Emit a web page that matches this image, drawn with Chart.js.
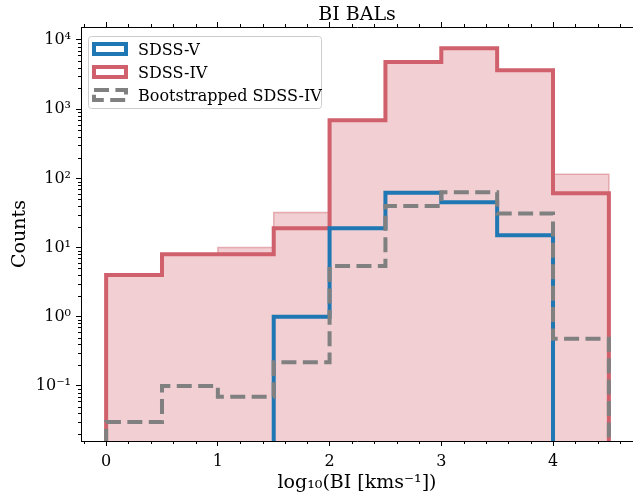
<!DOCTYPE html>
<html>
<head>
<meta charset="utf-8">
<script src="https://cdn.jsdelivr.net/npm/chart.js@4"></script>
<style>
  html, body { margin: 0; padding: 0; background: #fff; }
</style>
</head>
<body>
<canvas id="myChart" width="633" height="496"></canvas>
<script>
// histogram bins, log10(BI) edges
const binEdges = [0, 0.5, 1, 1.5, 2, 2.5, 3, 3.5, 4, 4.5]
const sdss5 = [0, 0, 0, 1, 19, 62, 45, 15, 0]
const sdss4 = [4, 8, 8, 19, 690, 4800, 7600, 3650, 61]
const sdss4Filled = [4, 8, 10, 32, 690, 4800, 7600, 3650, 115]
const bootSdss4 = [0.03, 0.1, 0.07, 0.22, 5.4, 40, 63, 31, 0.48]

const xTicks = [0, 1, 2, 3, 4]
const xTickLabels = ['0', '1', '2', '3', '4']
const yTicks = [0.1, 1, 10, 100, 1000, 10000]
const yTickLabels = ['10⁻¹', '10⁰', '10¹', '10²', '10³', '10⁴']

const titleText = 'BI BALs'
const xLabel = 'log₁₀(BI [kms⁻¹])'
const yLabel = 'Counts'

const FLOOR = 1e-4 // zero counts sit below the log axis
const serif = '"DejaVu Serif", serif'

// points for a step outline: up from the floor, across every bin, back down
const stepPoints = vals => {
  const pts = [{x: binEdges[0], y: FLOOR}]
  vals.forEach((v, i) => pts.push({x: binEdges[i], y: v > 0 ? v : FLOOR}))
  const last = vals[vals.length - 1]
  const end = binEdges[binEdges.length - 1]
  pts.push({x: end, y: last > 0 ? last : FLOOR})
  pts.push({x: end, y: FLOOR})
  return pts
}

const clipArea = {left: 6, top: 6, right: 6, bottom: 0}

const minorTicks = {
  id: 'minorTicks',
  afterDraw(chart) {
    const ctx = chart.ctx
    const a = chart.chartArea
    const xs = chart.scales.x
    const ys = chart.scales.y
    ctx.save()
    ctx.strokeStyle = '#000'
    ctx.lineWidth = 1
    ctx.beginPath()
    for (let k = -2; k <= 24; k++) {
      if (k % 5 === 0) continue
      const v = k * 0.2
      if (v < xs.min || v > xs.max) continue
      const px = Math.round(xs.getPixelForValue(v)) + 0.5
      ctx.moveTo(px, a.bottom)
      ctx.lineTo(px, a.bottom + 3)
      ctx.moveTo(px, a.top)
      ctx.lineTo(px, a.top - 3)
    }
    for (let d = -2; d <= 4; d++) {
      for (let m = 2; m <= 9; m++) {
        const v = m * Math.pow(10, d)
        if (v < ys.min || v > ys.max) continue
        const py = Math.round(ys.getPixelForValue(v)) + 0.5
        ctx.moveTo(a.left, py)
        ctx.lineTo(a.left - 3, py)
      }
    }
    ctx.stroke()
    ctx.restore()
  }
}

const textAndLegend = {
  id: 'textAndLegend',
  afterDraw(chart) {
    const ctx = chart.ctx
    const a = chart.chartArea
    const cx = (a.left + a.right) / 2
    ctx.save()
    ctx.fillStyle = '#000'
    ctx.font = '19px ' + serif
    ctx.textAlign = 'center'
    ctx.textBaseline = 'alphabetic'
    ctx.fillText(titleText, cx, 20)
    ctx.fillText(xLabel, cx, 488)
    ctx.save()
    ctx.translate(24.5, (a.top + a.bottom) / 2)
    ctx.rotate(-Math.PI / 2)
    ctx.fillText(yLabel, 0, 0)
    ctx.restore()

    // legend box
    ctx.beginPath()
    ctx.roundRect(88.5, 36.5, 233, 72, 3)
    ctx.fillStyle = 'rgba(255,255,255,0.8)'
    ctx.fill()
    ctx.strokeStyle = '#cccccc'
    ctx.lineWidth = 1
    ctx.stroke()

    const rows = [49, 72, 95]
    ctx.font = '16px ' + serif
    ctx.textAlign = 'left'
    chart.data.datasets.slice(0, 3).forEach((ds, i) => {
      const cy = rows[i]
      ctx.beginPath()
      ctx.rect(94, cy - 5, 32, 10)
      ctx.fillStyle = '#fff'
      ctx.fill()
      ctx.strokeStyle = ds.borderColor
      ctx.lineWidth = ds.borderWidth
      ctx.setLineDash(ds.borderDash || [])
      ctx.stroke()
      ctx.setLineDash([])
      ctx.fillStyle = '#000'
      ctx.fillText(ds.label, 138, cy + 6)
    })
    ctx.restore()
  }
}

const ctx = document.getElementById('myChart').getContext('2d')
const chart = new Chart(ctx, {
  type: 'line',
  data: {
    datasets: [
      {
        label: 'SDSS-V',
        data: stepPoints(sdss5),
        borderColor: '#1f77b4',
        borderWidth: 4,
        stepped: 'before',
        pointRadius: 0,
        fill: false,
        order: 1,
        clip: clipArea
      },
      {
        label: 'SDSS-IV',
        data: stepPoints(sdss4),
        borderColor: '#d0606b',
        borderWidth: 4,
        stepped: 'before',
        pointRadius: 0,
        fill: false,
        order: 2,
        clip: clipArea
      },
      {
        label: 'Bootstrapped SDSS-IV',
        data: stepPoints(bootSdss4),
        borderColor: '#808080',
        borderWidth: 4,
        borderDash: [15, 6.4],
        stepped: 'before',
        pointRadius: 0,
        fill: false,
        order: 0,
        clip: clipArea
      },
      {
        label: '',
        data: stepPoints(sdss4Filled),
        borderColor: 'rgba(208,96,107,0.45)',
        borderWidth: 1.5,
        backgroundColor: 'rgba(208,96,107,0.3)',
        stepped: 'before',
        pointRadius: 0,
        fill: 'start',
        order: 3,
        clip: clipArea
      }
    ]
  },
  options: {
    responsive: false,
    animation: false,
    layout: {padding: {top: 22, right: 0, bottom: 0, left: 0}},
    plugins: {
      legend: {display: false},
      tooltip: {enabled: false}
    },
    scales: {
      x: {
        type: 'linear',
        position: 'bottom',
        min: -0.225,
        max: 4.716,
        afterBuildTicks: s => { s.ticks = xTicks.map(v => ({value: v})) },
        afterFit: s => { s.height = 55 },
        grid: {display: true, drawOnChartArea: false, tickLength: 5, tickColor: '#000', tickWidth: 1},
        border: {display: true, color: '#000', width: 1},
        ticks: {
          font: {family: serif, size: 16},
          color: '#000',
          padding: 6,
          maxRotation: 0,
          autoSkip: false,
          callback: (v, i) => xTickLabels[i]
        }
      },
      x2: {
        type: 'linear',
        position: 'top',
        min: -0.225,
        max: 4.716,
        afterBuildTicks: s => { s.ticks = xTicks.map(v => ({value: v})) },
        afterFit: s => { s.height = 5 },
        grid: {display: true, drawOnChartArea: false, tickLength: 5, tickColor: '#000', tickWidth: 1},
        border: {display: true, color: '#000', width: 1},
        ticks: {display: false}
      },
      y: {
        type: 'logarithmic',
        position: 'left',
        min: 0.016,
        max: 15400,
        afterBuildTicks: s => { s.ticks = yTicks.map(v => ({value: v})) },
        afterFit: s => { s.width = 81 },
        grid: {display: true, drawOnChartArea: false, tickLength: 5, tickColor: '#000', tickWidth: 1},
        border: {display: true, color: '#000', width: 1},
        ticks: {
          font: {family: serif, size: 16},
          color: '#000',
          padding: 5,
          autoSkip: false,
          callback: (v, i) => yTickLabels[i]
        }
      }
    }
  },
  plugins: [minorTicks, textAndLegend]
})
</script>
</body>
</html>
